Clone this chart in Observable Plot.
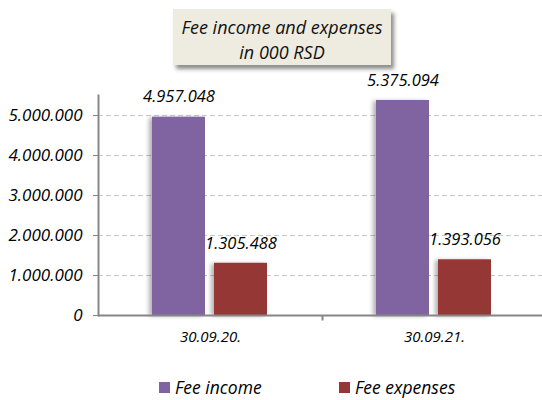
<!DOCTYPE html>
<html><head><meta charset="utf-8">
<script src="https://cdn.jsdelivr.net/npm/d3@7"></script>
<script src="https://cdn.jsdelivr.net/npm/@observablehq/plot@0.6"></script>
<style>
body{margin:0;background:#fff;font-family:"Open Sans",sans-serif;}
#wrap{position:relative;width:542px;height:400px;overflow:hidden}
#title{position:absolute;left:173px;top:9px;width:218px;height:56px;background:#EEECE1;box-shadow:3px 4px 4px rgba(0,0,0,0.45);font-style:italic;font-size:18px;line-height:25px;text-align:center;color:#111;padding-top:6px;box-sizing:border-box;z-index:2}
#legend{position:absolute;top:377px;left:159px;display:flex;font-style:italic;font-size:17.5px;line-height:20px;color:#000;z-index:2}
.item{display:flex;align-items:center;width:180px;white-space:nowrap}
.sw{width:11px;height:11px;margin-right:5px}
svg g[aria-label="bar"] rect{filter:drop-shadow(-3px 1px 2px rgba(0,0,0,0.3))}
</style>
</head><body>
<div id="wrap">
<div id="title">Fee income and expenses<br>in 000 RSD</div>
<div id="chart"></div>
<div id="legend"></div>
</div>
<script>
const categories = ["30.09.20.", "30.09.21."];
const series = ["Fee income", "Fee expenses"];
const feeIncome = [4957048, 5375094];
const feeExpenses = [1305488, 1393056];
const yTicks = [0, 1000000, 2000000, 3000000, 4000000, 5000000];
const colors = ["#8064A2", "#953735"];

const data = categories.flatMap((c, i) => [
  {cat: c, series: series[0], value: feeIncome[i]},
  {cat: c, series: series[1], value: feeExpenses[i]}
]);
const fmt = d => d3.format(",")(d).replace(/,/g, ".");
const tickSymbol = {draw(ctx) { ctx.moveTo(0, 0); ctx.lineTo(0, 5); }};

const chart = Plot.plot({
  width: 542, height: 400,
  marginLeft: 98, marginRight: -4, marginTop: 95, marginBottom: 85,
  style: {fontFamily: "Open Sans", fontSize: "15px", fontStyle: "italic", color: "#868686", background: "transparent", overflow: "visible"},
  fx: {domain: categories, padding: 0, label: null, axis: null},
  x: {domain: series, paddingInner: 0.145, paddingOuter: 0.87, axis: null},
  y: {domain: [0, 5500000], axis: null},
  color: {domain: series, range: colors},
  marks: [
    Plot.gridY(yTicks.slice(1), {stroke: "#c8c8c8", strokeOpacity: 1, strokeDasharray: "5,3"}),
    Plot.barY(data, {fx: "cat", x: "series", y: "value", fill: "series"}),
    Plot.text(data, {fx: "cat", x: "series", y: "value", text: d => fmt(d.value), dy: -20, fill: "#000", fontSize: 16.5}),
    Plot.ruleY([0], {stroke: "#868686", strokeWidth: 2}),
    Plot.frame({anchor: "left", facetAnchor: "left", stroke: "#868686", strokeWidth: 2}),
    Plot.axisY(yTicks, {tickSize: 5, tickPadding: 11, tickFormat: fmt, stroke: "#868686", fill: "#000", label: null, fontSize: 17}),
    Plot.axisFx({anchor: "bottom", tickSize: 0, tickPadding: 16, fill: "#000", label: null, fontSize: 15}),
    Plot.dot(categories.slice(1), {fx: d => d, frameAnchor: "bottom-left", symbol: tickSymbol, stroke: "#868686", strokeWidth: 2})
  ]
});
document.getElementById("chart").appendChild(chart);

const legend = document.getElementById("legend");
series.forEach((s, i) => {
  const it = document.createElement("div"); it.className = "item";
  const sw = document.createElement("span"); sw.className = "sw"; sw.style.background = colors[i];
  const t = document.createElement("span"); t.textContent = s;
  it.appendChild(sw); it.appendChild(t); legend.appendChild(it);
});
</script>
</body></html>
